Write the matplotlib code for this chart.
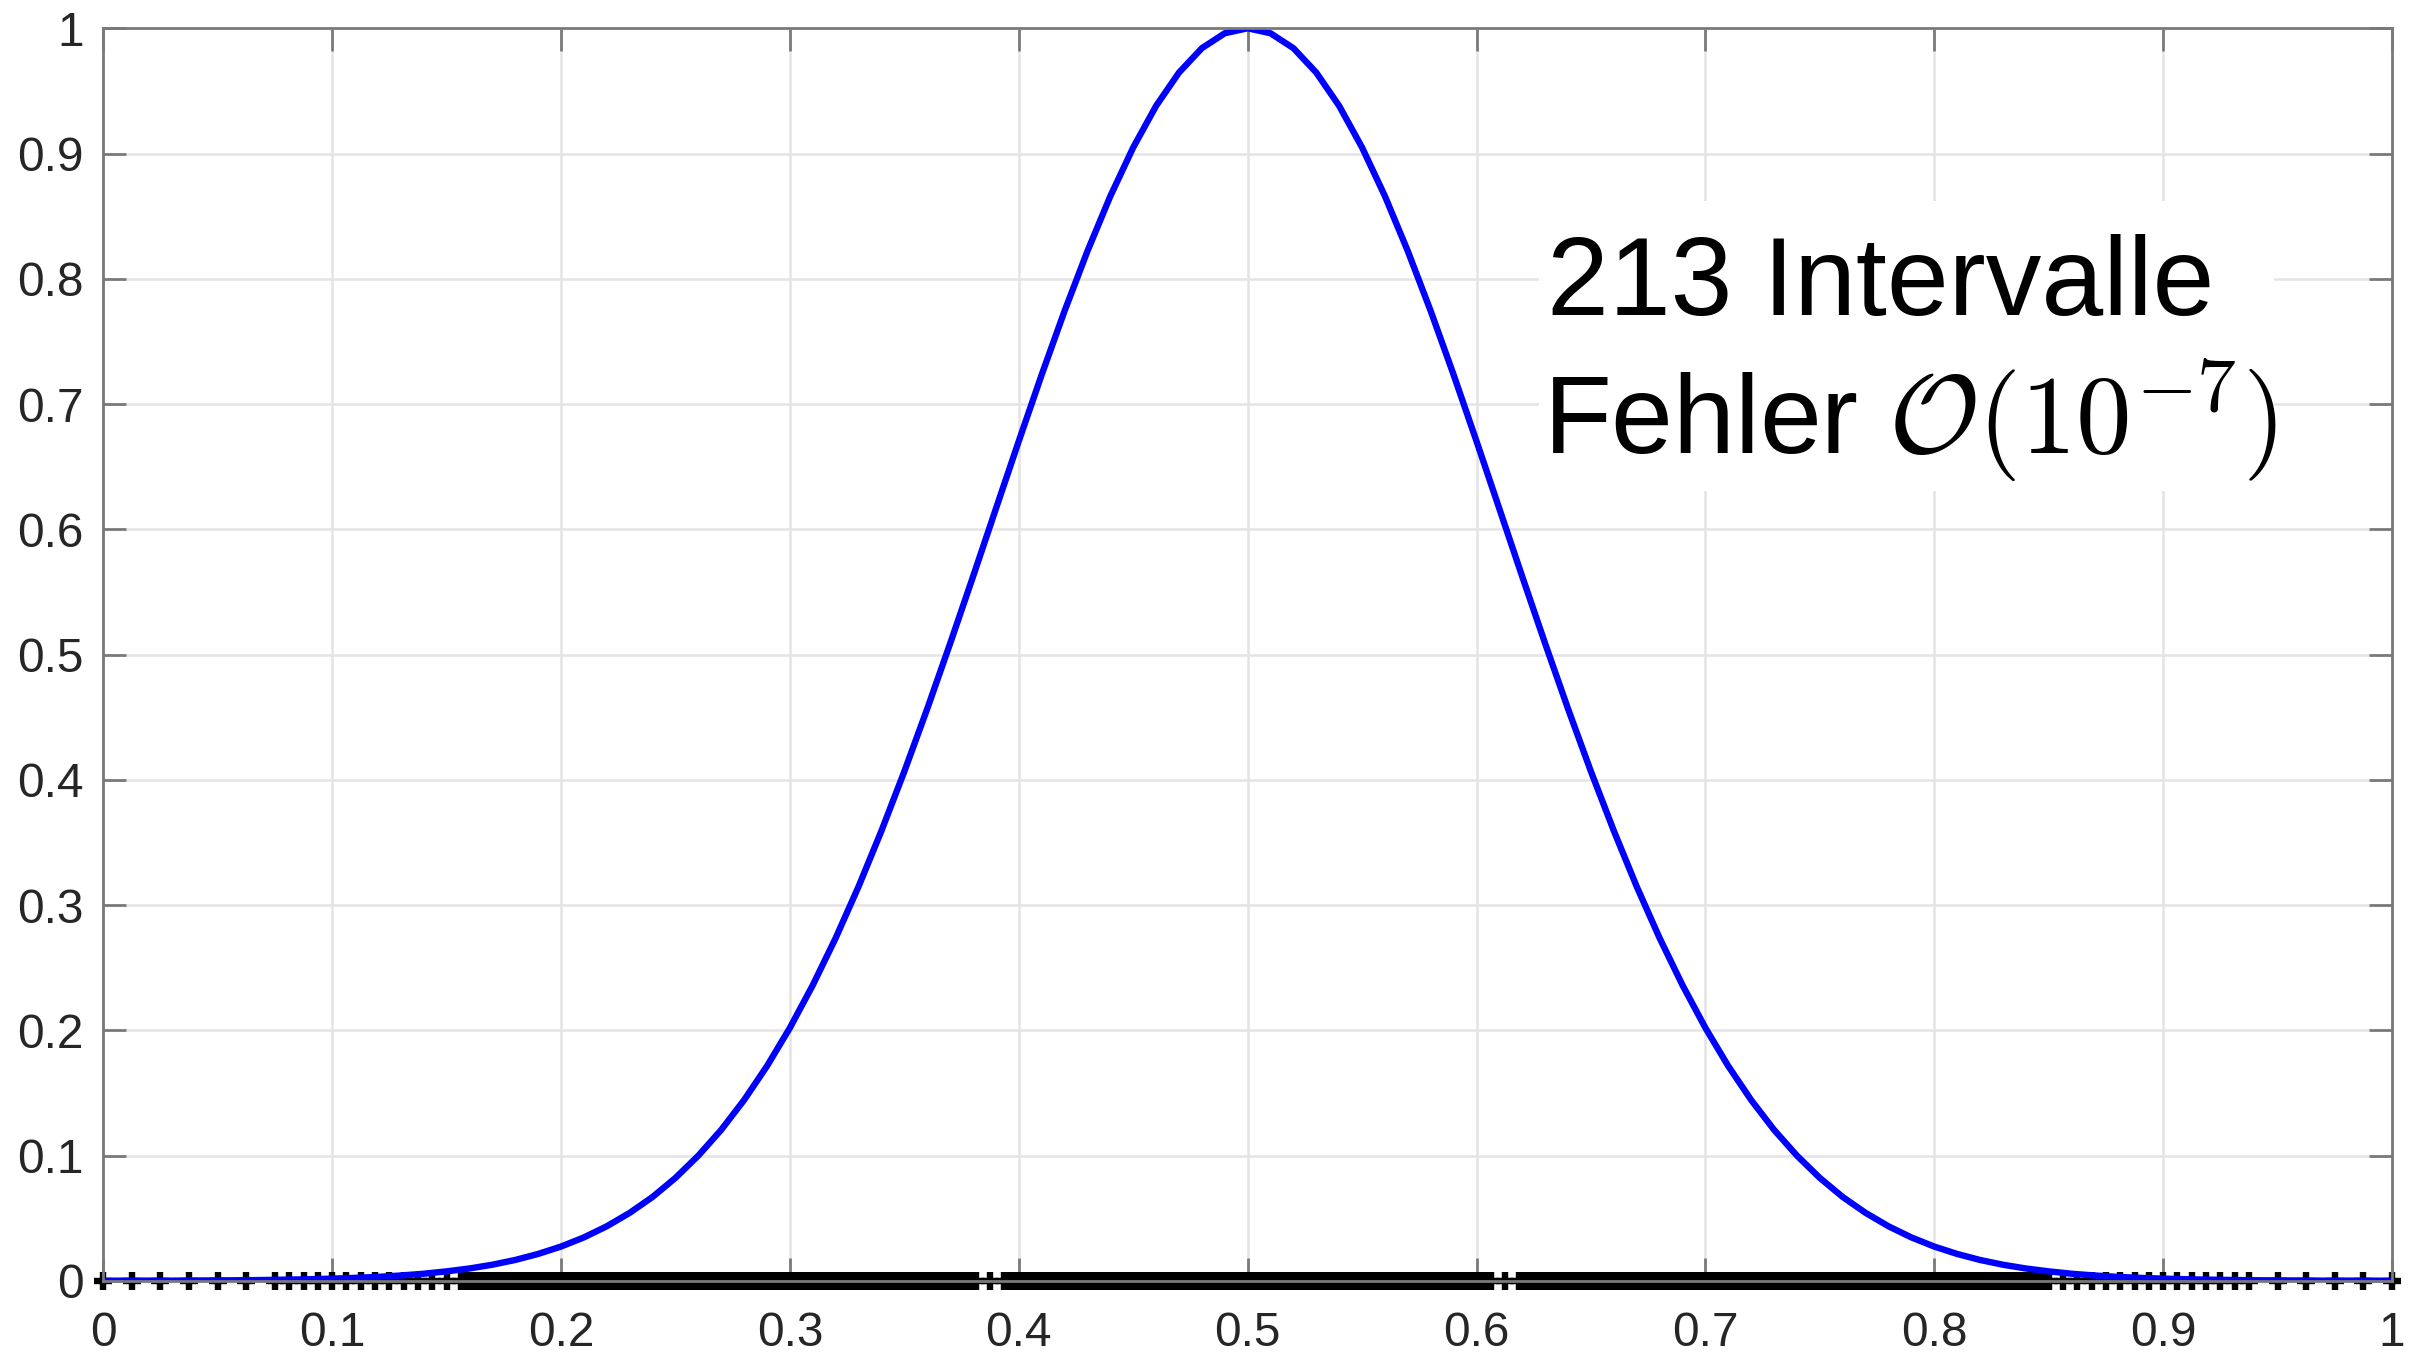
import matplotlib
matplotlib.use("Agg")
import matplotlib.pyplot as plt
import matplotlib.patches as patches
import numpy as np

# ---- data ----
# curve samples (x = 0.00, 0.01, ..., 1.00)
x_samples = [i / 100 for i in range(101)]
y_left = [0.0000, 0.0001, 0.0001, 0.0001, 0.0002, 0.0003, 0.0004, 0.0006, 0.0009, 0.0012,
          0.0017, 0.0023, 0.0031, 0.0042, 0.0056, 0.0075, 0.0098, 0.0128, 0.0166, 0.0214,
          0.0273, 0.0346, 0.0435, 0.0542, 0.0669, 0.0821, 0.0999, 0.1205, 0.1443, 0.1714,
          0.2019, 0.2360, 0.2736, 0.3147, 0.3592, 0.4066, 0.4566, 0.5087, 0.5621, 0.6163,
          0.6703, 0.7233, 0.7742, 0.8220, 0.8659, 0.9048, 0.9380, 0.9646, 0.9841, 0.9960]
y_peak = [1.0000]
y_samples = y_left + y_peak + y_left[::-1]

# interval nodes: blocks of (start, end, number of equal intervals)
node_blocks = [
    (0.0, 0.075, 6),
    (0.075, 0.15625, 13),
    (0.15625, 0.38125, 90),
    (0.38125, 0.39375, 2),
    (0.39375, 0.60625, 85),
    (0.60625, 0.61875, 2),
    (0.61875, 0.85, 92),
    (0.85, 0.9375, 14),
    (0.9375, 1.0, 5),
]

tick_vals = [0, 0.1, 0.2, 0.3, 0.4, 0.5, 0.6, 0.7, 0.8, 0.9, 1]
tick_labels = ["0", "0.1", "0.2", "0.3", "0.4", "0.5", "0.6", "0.7", "0.8", "0.9", "1"]

text_line1 = "213 Intervalle"
text_line2 = r"Fehler $\mathcal{O}(10^{-7})$"

# ---- build nodes ----
nodes = [node_blocks[0][0]]
for a, b, n in node_blocks:
    nodes.extend(list(np.linspace(a, b, n + 1)[1:]))
nodes = np.array(nodes)

plt.rcParams['mathtext.fontset'] = 'cm'
plt.rcParams['font.family'] = ['Liberation Sans', 'DejaVu Sans']

fig = plt.figure(figsize=(12.12, 6.76), dpi=200)
ax = fig.add_axes([0.0426, 0.0527, 0.9442, 0.9264])

axcol = '#7a7a7a'
ax.set_xlim(0, 1)
ax.set_ylim(0, 1)
ax.set_axisbelow(True)
ax.grid(True, color='#e4e4e4', linewidth=0.9)

for s in ax.spines.values():
    s.set_color(axcol)
    s.set_linewidth(1.0)
    s.set_zorder(2.5)

ax.set_xticks(tick_vals)
ax.set_xticklabels(tick_labels)
ax.set_yticks(tick_vals)
ax.set_yticklabels(tick_labels)
ax.tick_params(axis='both', which='both', direction='in', length=8.3, width=1.0,
               color=axcol, labelcolor='#262626', labelsize=17.2,
               top=True, right=True)
ax.tick_params(axis='x', pad=11)
ax.tick_params(axis='y', pad=7)

# white box behind the annotation
ax.add_patch(patches.Rectangle((0.6271, 0.6304), 0.3212, 0.232, facecolor='white',
                               edgecolor='none', zorder=1))

# interval nodes
ax.plot(nodes, np.zeros_like(nodes), linestyle='none', marker='+', color='black',
        markersize=6.8, markeredgewidth=2.3, clip_on=False, zorder=2.1)

# function curve
ax.plot(x_samples, y_samples, color=(0, 0, 1), linewidth=2.3, zorder=2.2,
        solid_joinstyle='round', solid_capstyle='butt')

ax.text(0.631, 0.771, text_line1, fontsize=40, ha='left', va='baseline',
        color='black', zorder=6)
ax.text(0.629, 0.660, text_line2, fontsize=40, ha='left', va='baseline',
        color='black', zorder=6)

fig.savefig("out.png", dpi=200, facecolor='white')
